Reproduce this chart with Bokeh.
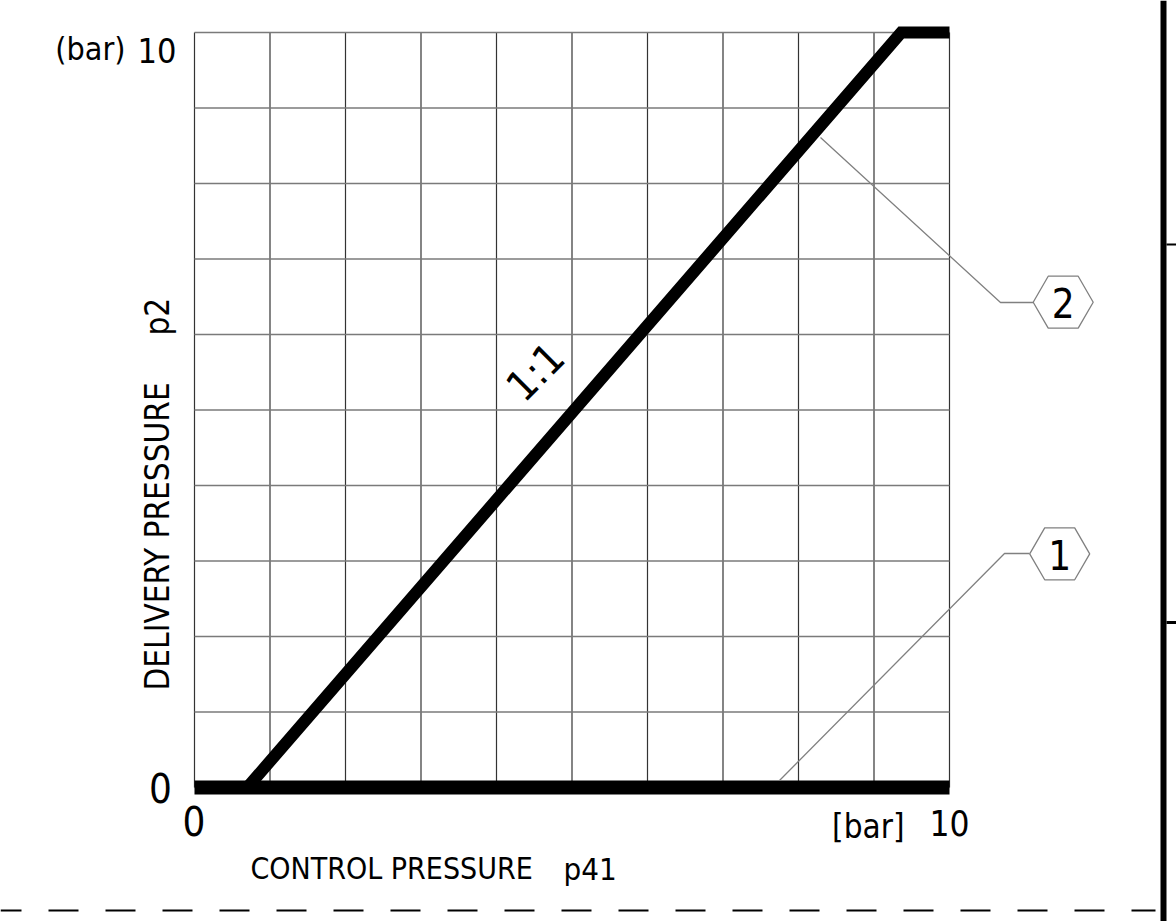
from bokeh.plotting import figure
from bokeh.models import Range1d
from bokeh.embed import file_html
from bokeh.resources import INLINE
from bokeh.core.properties import value
import math

# ---------------- data ----------------
grid_ticks = [0, 1, 2, 3, 4, 5, 6, 7, 8, 9, 10]
x_min, x_max = 0, 10
y_min, y_max = 0, 10
# curve 1 : delivery pressure stays 0
curve1_x = [0, 10]
curve1_y = [0, 0]
# curve 2 : ~1:1 rise after threshold, saturating at 10 bar
curve2_x = [0.7, 9.36, 10]
curve2_y = [0, 10, 10]

x_tick_labels = ["0", "10"]
y_tick_labels = ["0", "10"]
x_title = "CONTROL PRESSURE"
x_sym = "p41"
y_title = "DELIVERY PRESSURE"
y_sym = "p2"
ratio_label = "1:1"
callouts = ["1", "2"]

# ---------------- layout helpers (pixel -> data) ----------------
X0, Y0, CELL = 194.0, 787.0, 75.5
def dx(px):
    return (px - X0) / CELL
def dy(py):
    return (Y0 - py) / CELL

W, H = 1176, 921
p = figure(width=W, height=H, output_backend="svg", toolbar_location=None,
           x_range=Range1d(dx(0), dx(W)), y_range=Range1d(dy(H), dy(0)),
           x_axis_type=None, y_axis_type=None, min_border=0,
           background_fill_color="white", border_fill_color="white")
p.outline_line_color = None
p.grid.visible = False

FONT = value("'DejaVu Sans Condensed', 'Roboto Condensed', 'Open Sans Condensed', Roboto, sans-serif")

# grid
p.segment(x0=grid_ticks, y0=[y_min] * 11, x1=grid_ticks, y1=[y_max] * 11,
          line_color="#333333", line_width=1.2)
p.segment(x0=[x_min] * 11, y0=grid_ticks, x1=[x_max] * 11, y1=grid_ticks,
          line_color="#7a7a7a", line_width=1.6)

# curves
p.line(curve1_x, curve1_y, line_color="black", line_width=14, line_cap="butt")
p.line(curve2_x, curve2_y, line_color="black", line_width=12, line_cap="butt",
       line_join="miter")

# leader lines
p.line([dx(820), dx(1000), dx(1033)], [dy(137), dy(302), dy(302)],
       line_color="#808080", line_width=1.3)
p.line([dx(779), dx(1004), dx(1029)], [dy(780), dy(553), dy(553)],
       line_color="#808080", line_width=1.3)

# hexagon callouts
p.scatter([dx(1062.7), dx(1059.2)], [dy(301.7), dy(553.3)], marker="hex", size=60,
          fill_color="white", line_color="#808080", line_width=1.3)
p.text([dx(1062.7), dx(1059.2)], [dy(302), dy(554)], text=[callouts[1], callouts[0]],
       text_font=FONT, text_font_size="40px", text_align="center",
       text_baseline="middle", text_color="black")

# right border bar, ticks and dashed bottom line
p.line([dx(1163), dx(1163)], [dy(0), dy(930)], line_color="black", line_width=6)
p.line([dx(1166), dx(1180)], [dy(244), dy(244)], line_color="black", line_width=2)
p.line([dx(1166), dx(1180)], [dy(622), dy(622)], line_color="black", line_width=3)
p.line([dx(0), dx(1155)], [dy(910), dy(910)], line_color="black", line_width=2,
       line_dash="30 27", line_dash_offset=9)

# tick labels
p.text([dx(125)], [dy(48)], text=["(bar)"], text_font=FONT, text_font_size="32px",
       text_align="right", text_baseline="middle")
p.text([dx(176)], [dy(50)], text=[y_tick_labels[1]], text_font=FONT, text_font_size="34px",
       text_align="right", text_baseline="middle")
p.text([dx(160)], [dy(787)], text=[y_tick_labels[0]], text_font=FONT, text_font_size="40px",
       text_align="center", text_baseline="middle")
p.text([dx(193.5)], [dy(820)], text=[x_tick_labels[0]], text_font=FONT, text_font_size="40px",
       text_align="center", text_baseline="middle")
p.text([dx(904)], [dy(826)], text=["[bar]"], text_font=FONT, text_font_size="33px",
       text_align="right", text_baseline="middle")
p.text([dx(929)], [dy(822)], text=[x_tick_labels[1]], text_font=FONT, text_font_size="35px",
       text_align="left", text_baseline="middle")

# axis titles
p.text([dx(250)], [dy(868)], text=[x_title], text_font=FONT, text_font_size="30px",
       text_align="left", text_baseline="alphabetic")
p.text([dx(563)], [dy(868)], text=[x_sym], text_font=FONT, text_font_size="31px",
       text_align="left", text_baseline="alphabetic")
p.text([dx(157)], [dy(690)], text=[y_title], text_font=FONT, text_font_size="33px",
       text_align="left", text_baseline="alphabetic", angle=math.pi / 2)
p.text([dx(157)], [dy(335)], text=[y_sym], text_font=FONT, text_font_size="33px",
       text_align="left", text_baseline="alphabetic", angle=math.pi / 2)

# ratio label along the line
p.text([dx(535)], [dy(371.5)], text=[ratio_label], text_font=FONT, text_font_size="42px",
       text_align="center", text_baseline="middle", angle=math.pi / 4)

open("out.html", "w").write(file_html(p, INLINE))
